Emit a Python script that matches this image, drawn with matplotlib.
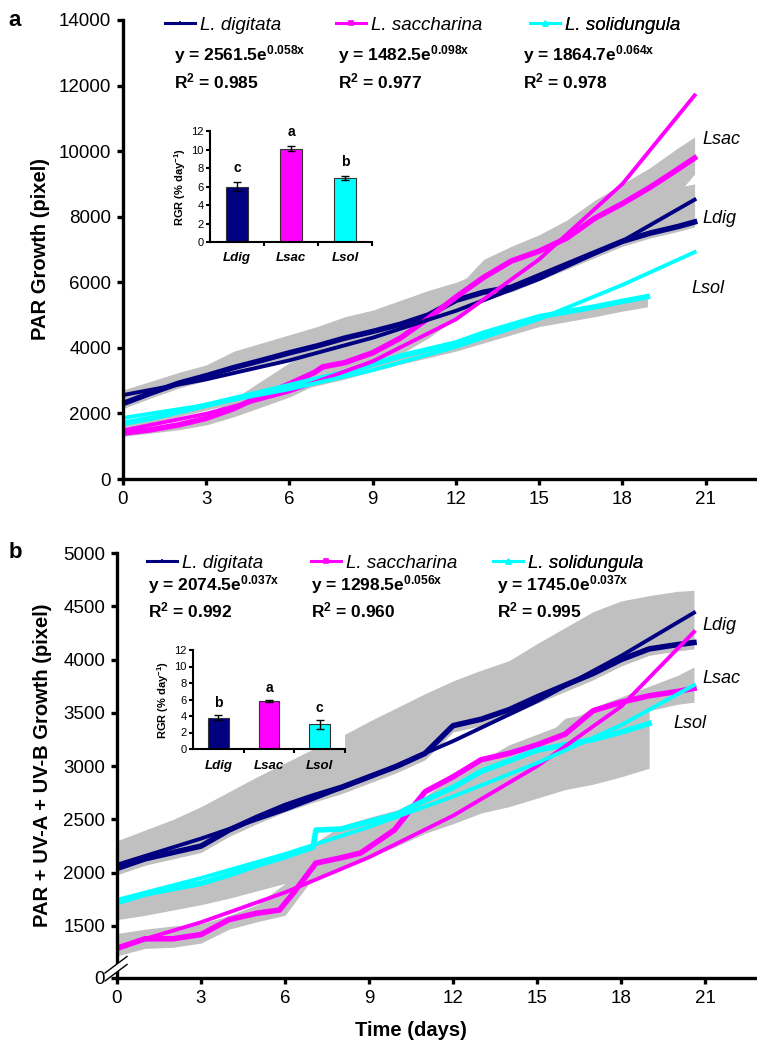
import numpy as np
import matplotlib.pyplot as plt
from matplotlib.lines import Line2D
from matplotlib.patches import Polygon

plt.rcParams['font.family'] = ['Liberation Sans', 'DejaVu Sans']
plt.rcParams['mathtext.fontset'] = 'custom'
plt.rcParams['mathtext.rm'] = 'Liberation Sans'
plt.rcParams['mathtext.bf'] = 'Liberation Sans:bold'
plt.rcParams['mathtext.it'] = 'Liberation Sans:italic'
plt.rcParams['mathtext.default'] = 'bf'

NAVY = '#000080'
MAG = '#ff00ff'
CYAN = '#00ffff'
GREY = '#c0c0c0'

# ---- data, panel a (PAR) ----
day_a = [0, 1, 2, 3, 4, 5, 6, 7, 8, 9, 10, 11, 12, 13, 14, 15, 16, 17, 18, 19, 20, 20.6]
dig_a = [2300, 2620, 2920, 3150, 3400, 3620, 3850, 4060, 4300, 4500, 4720, 5000,
         5450, 5700, 5850, 6200, 6550, 6900, 7250, 7500, 7700, 7840]
dig_a_hi = [2715, 2980, 3250, 3480, 3900, 4150, 4400, 4650, 4950, 5150, 5450, 5750,
            6000, 6350, 6650, 6950, 7350, 7750, 8200, 8600, 8900, 9000]
dig_a_lo = [2150, 2470, 2770, 3000, 3250, 3470, 3700, 3910, 4150, 4350, 4570, 4850,
            5300, 5550, 5700, 6050, 6400, 6750, 7100, 7350, 7550, 7690]

sac_a_day = [0, 1, 2, 3, 4, 5, 6, 6.9, 7.2, 8, 9, 10, 11, 12, 13, 14, 15, 16, 17, 18, 19, 20, 20.6]
sac_a = [1400, 1500, 1650, 1850, 2150, 2550, 2900, 3250, 3420, 3550, 3850, 4300,
         4900, 5550, 6150, 6650, 6950, 7350, 7950, 8400, 8900, 9450, 9790]
sac_a_hi = [1500, 1600, 1750, 1950, 2450, 3000, 3550, 3950, 4250, 4600, 4950, 5350,
            5800, 6700, 7100, 7450, 7900, 8500, 9000, 9500, 10100, 10430]
sac_a_lo = [1300, 1400, 1500, 1650, 1900, 2200, 2500, 2900, 3100, 3400, 3800, 4300,
            4900, 5500, 6000, 6300, 6700, 7200, 7650, 8100, 8700, 9300]

sol_a_day = [0, 1, 2, 3, 4, 5, 6, 7, 8, 9, 10, 11, 12, 13, 14, 15, 16, 17, 18, 18.9]
sol_a = [1700, 1850, 2050, 2250, 2450, 2650, 2850, 3050, 3250, 3500, 3750, 3950,
         4150, 4450, 4700, 4950, 5100, 5250, 5420, 5560]
sol_a_hi = [1760, 1900, 2100, 2300, 2500, 2700, 2900, 3100, 3300, 3550, 3800, 4000,
            4200, 4500, 4750, 5000, 5150, 5300, 5470, 5600]
sol_a_lo = [1550, 1700, 1900, 2100, 2300, 2480, 2660, 2850, 3050, 3280, 3500, 3700,
            3900, 4150, 4400, 4650, 4800, 4950, 5120, 5250]

fit_day = [0, 3, 6, 9, 12, 15, 18, 20.6]
dig_a_fit = [2560, 3040, 3620, 4310, 5130, 6100, 7260, 8520]
sac_a_fit = [1480, 1990, 2670, 3590, 4870, 6700, 9000, 11700]
sol_a_fit = [1865, 2260, 2740, 3320, 4030, 4880, 5920, 6920]

# ---- data, panel b (PAR + UV-A + UV-B) ----
dig_b = [2040, 2130, 2190, 2250, 2400, 2520, 2630, 2720, 2800, 2900, 3000, 3120,
         3380, 3440, 3530, 3650, 3760, 3870, 4000, 4100, 4140, 4160]
dig_b_hi = [2300, 2400, 2500, 2620, 2760, 2900, 3030, 3160, 3280, 3420, 3550, 3680,
            3800, 3900, 3990, 4150, 4300, 4450, 4550, 4600, 4640, 4650]
dig_b_lo = [1980, 2070, 2130, 2190, 2340, 2460, 2570, 2660, 2740, 2840, 2940, 3060,
            3320, 3380, 3470, 3590, 3700, 3810, 3940, 4040, 4080, 4100]

sac_b_day = [0, 1, 2, 3, 4, 5, 5.8, 6.3, 7.1, 8, 8.7, 9.9, 11, 12, 13, 14, 15, 16, 17, 18, 19, 20, 20.6]
sac_b = [1290, 1380, 1380, 1420, 1560, 1620, 1650, 1810, 2090, 2140, 2185, 2400,
         2760, 2900, 3060, 3120, 3200, 3300, 3520, 3600, 3660, 3700, 3730]
sac_b_hi = [1430, 1470, 1500, 1520, 1600, 1700, 1900, 2200, 2260, 2360, 2520, 2720,
            2900, 3050, 3200, 3300, 3400, 3550, 3650, 3750, 3850, 3930]
sac_b_lo = [1220, 1290, 1300, 1340, 1470, 1540, 1600, 1950, 2050, 2150, 2250, 2600,
            2800, 2950, 3030, 3100, 3200, 3350, 3450, 3520, 3580, 3600]

sol_b_day = [0, 1, 2, 3, 4, 5, 6, 7, 7.1, 8, 9, 10, 11, 12, 13, 14, 15, 16, 17, 18, 19]
sol_b = [1720, 1800, 1850, 1900, 1980, 2070, 2150, 2240, 2400, 2410, 2480, 2550,
         2680, 2800, 2950, 3050, 3150, 3200, 3250, 3320, 3400]
sol_b_band_day = [0, 1, 2, 3, 4, 5, 6, 7, 8, 9, 10, 11, 12, 13, 14, 15, 16, 17, 18, 19]
sol_b_hi = [1760, 1830, 1880, 1930, 2010, 2100, 2180, 2270, 2440, 2520, 2590, 2720,
            2840, 2990, 3100, 3200, 3450, 3500, 3560, 3620]
sol_b_lo = [1560, 1600, 1650, 1700, 1760, 1830, 1900, 2000, 2080, 2150, 2250, 2370,
            2460, 2560, 2620, 2700, 2780, 2830, 2900, 2980]

dig_b_fit = [2075, 2320, 2590, 2895, 3235, 3610, 4035, 4440]
sac_b_fit = [1300, 1535, 1815, 2145, 2535, 3000, 3560, 4260]
sol_b_fit = [1745, 1950, 2175, 2430, 2715, 3030, 3385, 3760]

# ---- inset bars: relative growth rate ----
species_short = ['Ldig', 'Lsac', 'Lsol']
rgr_a = [6.0, 10.1, 6.9]
rgr_a_err = [0.45, 0.25, 0.2]
sig_a = ['c', 'a', 'b']
rgr_b = [3.8, 5.8, 3.0]
rgr_b_err = [0.3, 0.08, 0.52]
sig_b = ['b', 'a', 'c']

names = ['L. digitata', 'L. saccharina', 'L. solidungula']
eq_a = ['2561.5e$^{0.058x}$', '1482.5e$^{0.098x}$', '1864.7e$^{0.064x}$']
r2_a = ['0.985', '0.977', '0.978']
eq_b = ['2074.5e$^{0.037x}$', '1298.5e$^{0.056x}$', '1745.0e$^{0.037x}$']
r2_b = ['0.992', '0.960', '0.995']

W, H = 757, 1049
fig = plt.figure(figsize=(W / 100, H / 100), dpi=100)


def fx(x):
    return x / W


def fy(y):
    return 1 - y / H


def main_axes(left, top, right, bottom):
    ax = fig.add_axes([fx(left), fy(bottom), fx(right - left), (bottom - top) / H])
    for s in ['top', 'right']:
        ax.spines[s].set_visible(False)
    for s in ['left', 'bottom']:
        ax.spines[s].set_linewidth(2.4)
    ax.tick_params(direction='out', length=4.5, width=2.4, labelsize=13.5, pad=4)
    ax.set_xlim(0, 22.85)
    ax.set_xticks(range(0, 22, 3))
    return ax


def legend_keys(ax, xs, y, size=13.5):
    colors = [NAVY, MAG, CYAN]
    marks = ['+', 's', '^']
    for x, c, m, n in zip(xs, colors, marks, names):
        h = Line2D([], [], color=c, lw=2.2, marker=m, ms=3.5, mew=1.2)
        lg = ax.legend([h], [n], loc='center left', bbox_to_anchor=(fx(x), fy(y)),
                       bbox_transform=fig.transFigure, frameon=False, handlelength=1.6,
                       handletextpad=0.25, borderpad=0, borderaxespad=0, numpoints=1,
                       prop={'style': 'italic', 'size': size})
        ax.add_artist(lg)


def inset(left, top, right, bottom, vals, errs, sigs, lab_pad):
    ai = fig.add_axes([fx(left), fy(bottom), fx(right - left), (bottom - top) / H])
    ai.bar(range(3), vals, width=0.41, color=[NAVY, MAG, CYAN], edgecolor='#333333',
           linewidth=0.8, yerr=errs, capsize=3, error_kw=dict(lw=1, capthick=1, ecolor='black'))
    for i in range(3):
        ai.text(i, vals[i] + errs[i] + 1.5, sigs[i], ha='center', va='center',
                fontsize=10, fontweight='bold')
    ai.set_xlim(-0.5, 2.5)
    ai.set_ylim(0, 12)
    ai.set_yticks(range(0, 13, 2))
    ai.set_xticks(range(3))
    ai.set_xticklabels(species_short, fontsize=9.5, fontweight='bold', style='italic')
    ai.set_xticks([0.5, 1.5, 2.5], minor=True)
    ai.tick_params(axis='x', which='major', length=0, pad=lab_pad)
    ai.tick_params(axis='x', which='minor', length=3, width=1.5, direction='out')
    ai.tick_params(axis='y', length=3, width=1.5, labelsize=8, pad=1.5)
    for s in ['top', 'right']:
        ai.spines[s].set_visible(False)
    for s in ['left', 'bottom']:
        ai.spines[s].set_linewidth(1.5)
    ai.set_ylabel('RGR (% day$^{-1}$)', fontsize=8, fontweight='bold', labelpad=2)
    return ai


# ================= panel a =================
ax1 = main_axes(123, 20, 757, 479)
ax1.fill_between(day_a, dig_a_lo, dig_a_hi, color=GREY, lw=0)
ax1.fill_between(day_a, sac_a_lo, sac_a_hi, color=GREY, lw=0)
ax1.fill_between(sol_a_day, sol_a_lo, sol_a_hi, color=GREY, lw=0)
ax1.plot(day_a, dig_a, color=NAVY, lw=4)
ax1.plot(sac_a_day, sac_a, color=MAG, lw=4)
ax1.plot(sol_a_day, sol_a, color=CYAN, lw=4)
ax1.plot(fit_day, dig_a_fit, color=NAVY, lw=2.8)
ax1.plot(fit_day, sac_a_fit, color=MAG, lw=2.8)
ax1.plot(fit_day, sol_a_fit, color=CYAN, lw=2.8)
ax1.set_ylim(0, 14000)
ax1.set_yticks(range(0, 14001, 2000))
ax1.set_ylabel('PAR Growth (pixel)', fontsize=14.5, fontweight='bold', labelpad=6)
ax1.text(20.9, 10340, 'Lsac', fontsize=13, style='italic', va='center')
ax1.text(20.9, 7960, 'Ldig', fontsize=13, style='italic', va='center')
ax1.text(20.5, 5825, 'Lsol', fontsize=13, style='italic', va='center')

legend_keys(ax1, [165, 336, 530], 25)
for x, e, r in zip([174, 338, 523], eq_a, r2_a):
    fig.text(fx(x), fy(55), 'y = ' + e, fontsize=12.5, fontweight='bold', va='center')
    fig.text(fx(x), fy(81), 'R$^{2}$ = ' + r, fontsize=12.5, fontweight='bold', va='center')
fig.text(fx(15), fy(20), 'a', fontsize=16, fontweight='bold', ha='center', va='center')

inset(210, 131, 372, 242, rgr_a, rgr_a_err, sig_a, 7)

# ================= panel b =================
ax2 = main_axes(117, 553, 757, 978)
ax2.fill_between(day_a, dig_b_lo, dig_b_hi, color=GREY, lw=0)
ax2.fill_between(day_a, sac_b_lo, sac_b_hi, color=GREY, lw=0)
ax2.fill_between(sol_b_band_day, sol_b_lo, sol_b_hi, color=GREY, lw=0)
ax2.plot(day_a, dig_b, color=NAVY, lw=4)
ax2.plot(sac_b_day, sac_b, color=MAG, lw=4)
ax2.plot(sol_b_day, sol_b, color=CYAN, lw=4)
ax2.plot(fit_day, dig_b_fit, color=NAVY, lw=2.8)
ax2.plot(fit_day, sac_b_fit, color=MAG, lw=2.8)
ax2.plot(fit_day, sol_b_fit, color=CYAN, lw=2.8)
ax2.set_ylim(1012, 5000)
ax2.set_yticks([1012] + list(range(1500, 5001, 500)))
ax2.set_yticklabels(['0'] + [str(v) for v in range(1500, 5001, 500)])
ax2.set_ylabel('PAR + UV-A + UV-B Growth (pixel)', fontsize=14.5, fontweight='bold', labelpad=8)
ax2.set_xlabel('Time (days)', fontsize=14.5, fontweight='bold')
# label centred under the 0-21 day range
ax2.xaxis.set_label_coords(10.5 / 22.85, -0.1)
ax2.text(20.9, 4324, 'Ldig', fontsize=13, style='italic', va='center')
ax2.text(20.9, 3826, 'Lsac', fontsize=13, style='italic', va='center')
ax2.text(19.86, 3404, 'Lsol', fontsize=13, style='italic', va='center')

legend_keys(ax2, [147, 311, 493], 563)
for x, e, r in zip([148, 311, 497], eq_b, r2_b):
    fig.text(fx(x), fy(585), 'y = ' + e, fontsize=12.5, fontweight='bold', va='center')
    fig.text(fx(x), fy(610), 'R$^{2}$ = ' + r, fontsize=12.5, fontweight='bold', va='center')
fig.text(fx(15), fy(553), 'b', fontsize=16, fontweight='bold', ha='center', va='center')

# axis break on the y axis of panel b
pw, ph = 640.0, 425.0
gap = Polygon([(-12 / pw, -3 / ph), (10 / pw, 13.5 / ph), (10 / pw, 21.5 / ph), (-12 / pw, 5 / ph)],
              closed=True, transform=ax2.transAxes, facecolor='white', edgecolor='none',
              clip_on=False, zorder=10)
ax2.add_patch(gap)
for dy in [0, 8]:
    ax2.plot([-12 / pw, 10 / pw], [(-3 + dy) / ph, (13.5 + dy) / ph], color='black', lw=1,
             transform=ax2.transAxes, clip_on=False, zorder=11)

inset(193, 650, 345, 749, rgr_b, rgr_b_err, sig_b, 8)

plt.savefig('out.png', dpi=100)
